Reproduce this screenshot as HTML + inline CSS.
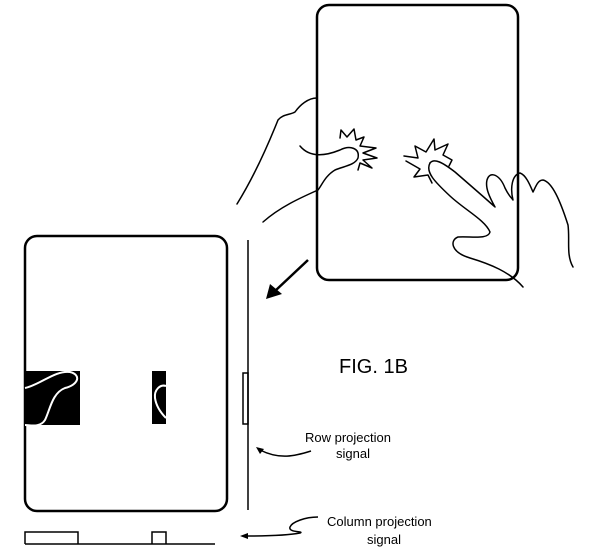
<!DOCTYPE html>
<html><head><meta charset="utf-8"><style>
html,body{margin:0;padding:0;background:#fff;}
svg{display:block}
text{font-family:"Liberation Sans",Arial,sans-serif;fill:#000}
</style></head><body>
<svg width="600" height="559" viewBox="0 0 600 559" xmlns="http://www.w3.org/2000/svg">
<g fill="none" stroke="#000" stroke-width="2.5">
<rect x="317" y="5" width="201" height="275" rx="12"/>
<rect x="25" y="236" width="202" height="275" rx="12"/>
</g>
<g fill="none" stroke="#000" stroke-width="1.5" stroke-linejoin="round" stroke-linecap="round">
<!-- left hand -->
<path d="M237,204 C255,175 268,145 278,120 C283,114 290,115 295,112 C300,105 308,98 317,98"/>
<path d="M300,146 C310,158 325,156 340,150 C350,145 360,148 358,158 C355,165 345,166 335,170 C325,176 322,185 318,190 C300,198 280,207 263,222"/>
<path d="M340,138 L341,130 L347,137 L354,129 L356,140 L364,137 L360,146 L376,148 L363,153 L377,158 L363,160 L372,168 L360,163 L358,170"/>
<!-- right hand -->
<path d="M404,156 L418,158 L415,146 L426,152 L434,139 L435,150 L448,144 L443,155 L452,160 L449,166"/>
<path d="M406,161 L420,169 L414,177 L428,175 L432,183"/>
<path d="M430,163 C434,158 442,162 455,172 C470,185 485,198 495,207 C490,198 485,188 487,180 C490,170 500,175 505,188 C510,198 512,198 513,200 C510,188 512,175 520,173 C526,175 530,185 533,192 C536,186 538,180 543,180 C552,182 560,200 568,225 C570,240 566,255 573,267"/>
<path d="M430,163 C425,172 435,182 450,196 C465,210 485,220 490,232 C488,240 470,236 458,237 C450,240 450,252 470,258 C490,264 510,272 523,287"/>
</g>
<!-- arrow -->
<line x1="308" y1="260" x2="275" y2="291" stroke="#000" stroke-width="2.5"/>
<polygon points="266,299 270,284 282,294" fill="#000"/>
<!-- blobs -->
<rect x="25" y="371" width="55" height="54" fill="#000"/>
<path d="M25,388 C40,385 55,370 70,372 C82,375 78,385 65,388 C52,393 50,410 45,420 C40,428 30,425 25,425" fill="none" stroke="#fff" stroke-width="2"/>
<rect x="152" y="371" width="14" height="53" fill="#000"/>
<path d="M166,386 C160,384 154,390 155,398 C156,405 160,412 166,418" fill="none" stroke="#fff" stroke-width="2"/>
<!-- row projection -->
<g fill="none" stroke="#000" stroke-width="1.5">
<line x1="248" y1="240" x2="248" y2="510"/>
<rect x="243" y="373" width="5" height="51"/>
<line x1="25" y1="544" x2="215" y2="544"/>
<polyline points="25,544 25,532 78,532 78,544"/>
<polyline points="152,544 152,532 166,532 166,544"/>
<path d="M311,451 C295,456 280,460 260,450"/>
<path d="M318,517 C305,517 292,522 290,527 C288,533 305,531 300,533 C290,535 275,536 245,536"/>
</g>
<polygon points="256,447 264,449 260,454" fill="#000"/>
<polygon points="240,536 248,533 248,539" fill="#000"/>
<text x="339" y="373" font-size="20">FIG. 1B</text>
<text x="305" y="442" font-size="13">Row projection</text>
<text x="336" y="458" font-size="13">signal</text>
<text x="327" y="526" font-size="13">Column projection</text>
<text x="367" y="544" font-size="13">signal</text>
</svg>
</body></html>
